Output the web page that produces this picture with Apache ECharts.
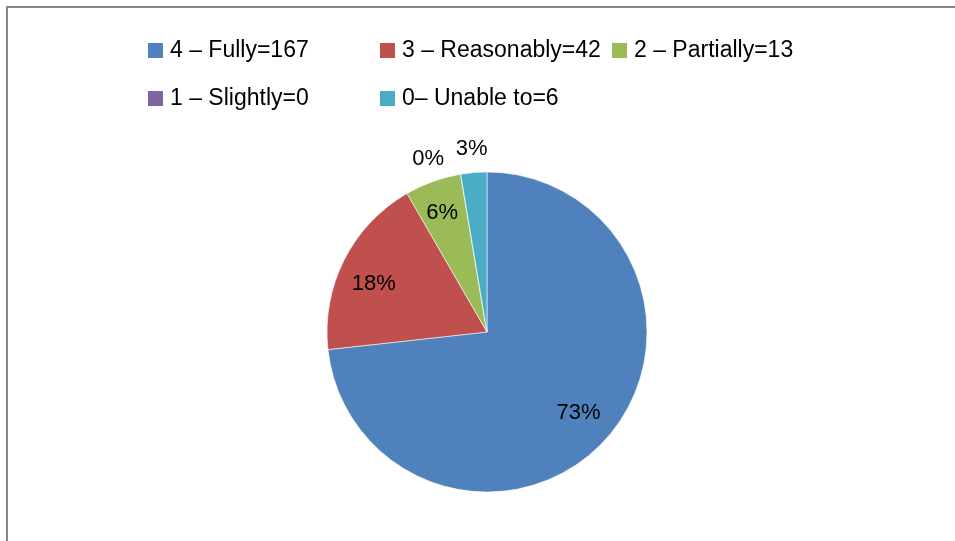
<!DOCTYPE html>
<html>
<head>
<meta charset="utf-8">
<script src="https://cdn.jsdelivr.net/npm/echarts@6/dist/echarts.min.js"></script>
<style>
html,body{margin:0;padding:0;background:#fff;}
#c{width:955px;height:541px;}
</style>
</head>
<body>
<div id="c"></div>
<script>
var categories = ['4 – Fully=167', '3 – Reasonably=42', '2 – Partially=13', '1 – Slightly=0', '0– Unable to=6'];
var values = [167, 42, 13, 0, 6];
var colors = ['#4F81BD', '#C0504D', '#9BBB59', '#8064A2', '#4BACC6'];
var insideLabels = [true, true, true, false, false];
// label nudges (style only)
var labelNudge = [[-3, -4], [0, 9], [-2, 0], [-28, 11], [0, 3]];

var FONT = '"Liberation Sans", Arial, sans-serif';
var chart = echarts.init(document.getElementById('c'), null, {renderer: 'canvas'});

function pct(p) { return Math.round(p.percent) + '%'; }

var sliceData = categories.map(function (n, i) {
  return {name: n, value: values[i], itemStyle: {color: colors[i]}};
});
var innerLabelData = categories.map(function (n, i) {
  return {name: n, value: values[i], label: {show: insideLabels[i], offset: labelNudge[i]}};
});
var outerLabelData = categories.map(function (n, i) {
  return {name: n, value: values[i], label: {show: !insideLabels[i], offset: labelNudge[i]}};
});

var legendPos = [[148, 39], [380, 39], [612, 39], [148, 87], [380, 87]];
var legends = categories.map(function (n, i) {
  return {
    data: [n], left: legendPos[i][0], top: legendPos[i][1], padding: 0,
    icon: 'rect', itemWidth: 15, itemHeight: 15, itemGap: 0,
    selectedMode: false,
    itemStyle: {borderWidth: 0},
    textStyle: {fontFamily: FONT, fontSize: 23, lineHeight: 15, color: '#000', padding: [0, 0, 0, 2]}
  };
});

chart.setOption({
  animation: false,
  backgroundColor: '#fff',
  graphic: [{
    type: 'rect', shape: {x: 7, y: 7, width: 1200, height: 1200},
    style: {fill: 'none', stroke: '#868686', lineWidth: 2}, silent: true
  }],
  legend: legends,
  series: [
    {
      type: 'pie', center: [487, 332], radius: [0, 160], startAngle: 90, clockwise: true,
      data: sliceData, label: {show: false}, labelLine: {show: false},
      itemStyle: {borderColor: 'rgba(255,255,255,0.7)', borderWidth: 0.8},
      emphasis: {disabled: true}, silent: true
    },
    {
      type: 'pie', center: [487, 332], radius: [88, 160], startAngle: 90, clockwise: true,
      data: innerLabelData, itemStyle: {color: 'rgba(0,0,0,0)'},
      label: {position: 'inside', formatter: pct, color: '#000', fontFamily: FONT, fontSize: 22},
      labelLine: {show: false}, emphasis: {disabled: true}, silent: true
    },
    {
      type: 'pie', center: [487, 332], radius: [168, 200], startAngle: 90, clockwise: true,
      data: outerLabelData, itemStyle: {color: 'rgba(0,0,0,0)'},
      label: {position: 'inside', formatter: pct, color: '#000', fontFamily: FONT, fontSize: 22},
      labelLine: {show: false}, emphasis: {disabled: true}, silent: true
    }
  ]
});
</script>
</body>
</html>
